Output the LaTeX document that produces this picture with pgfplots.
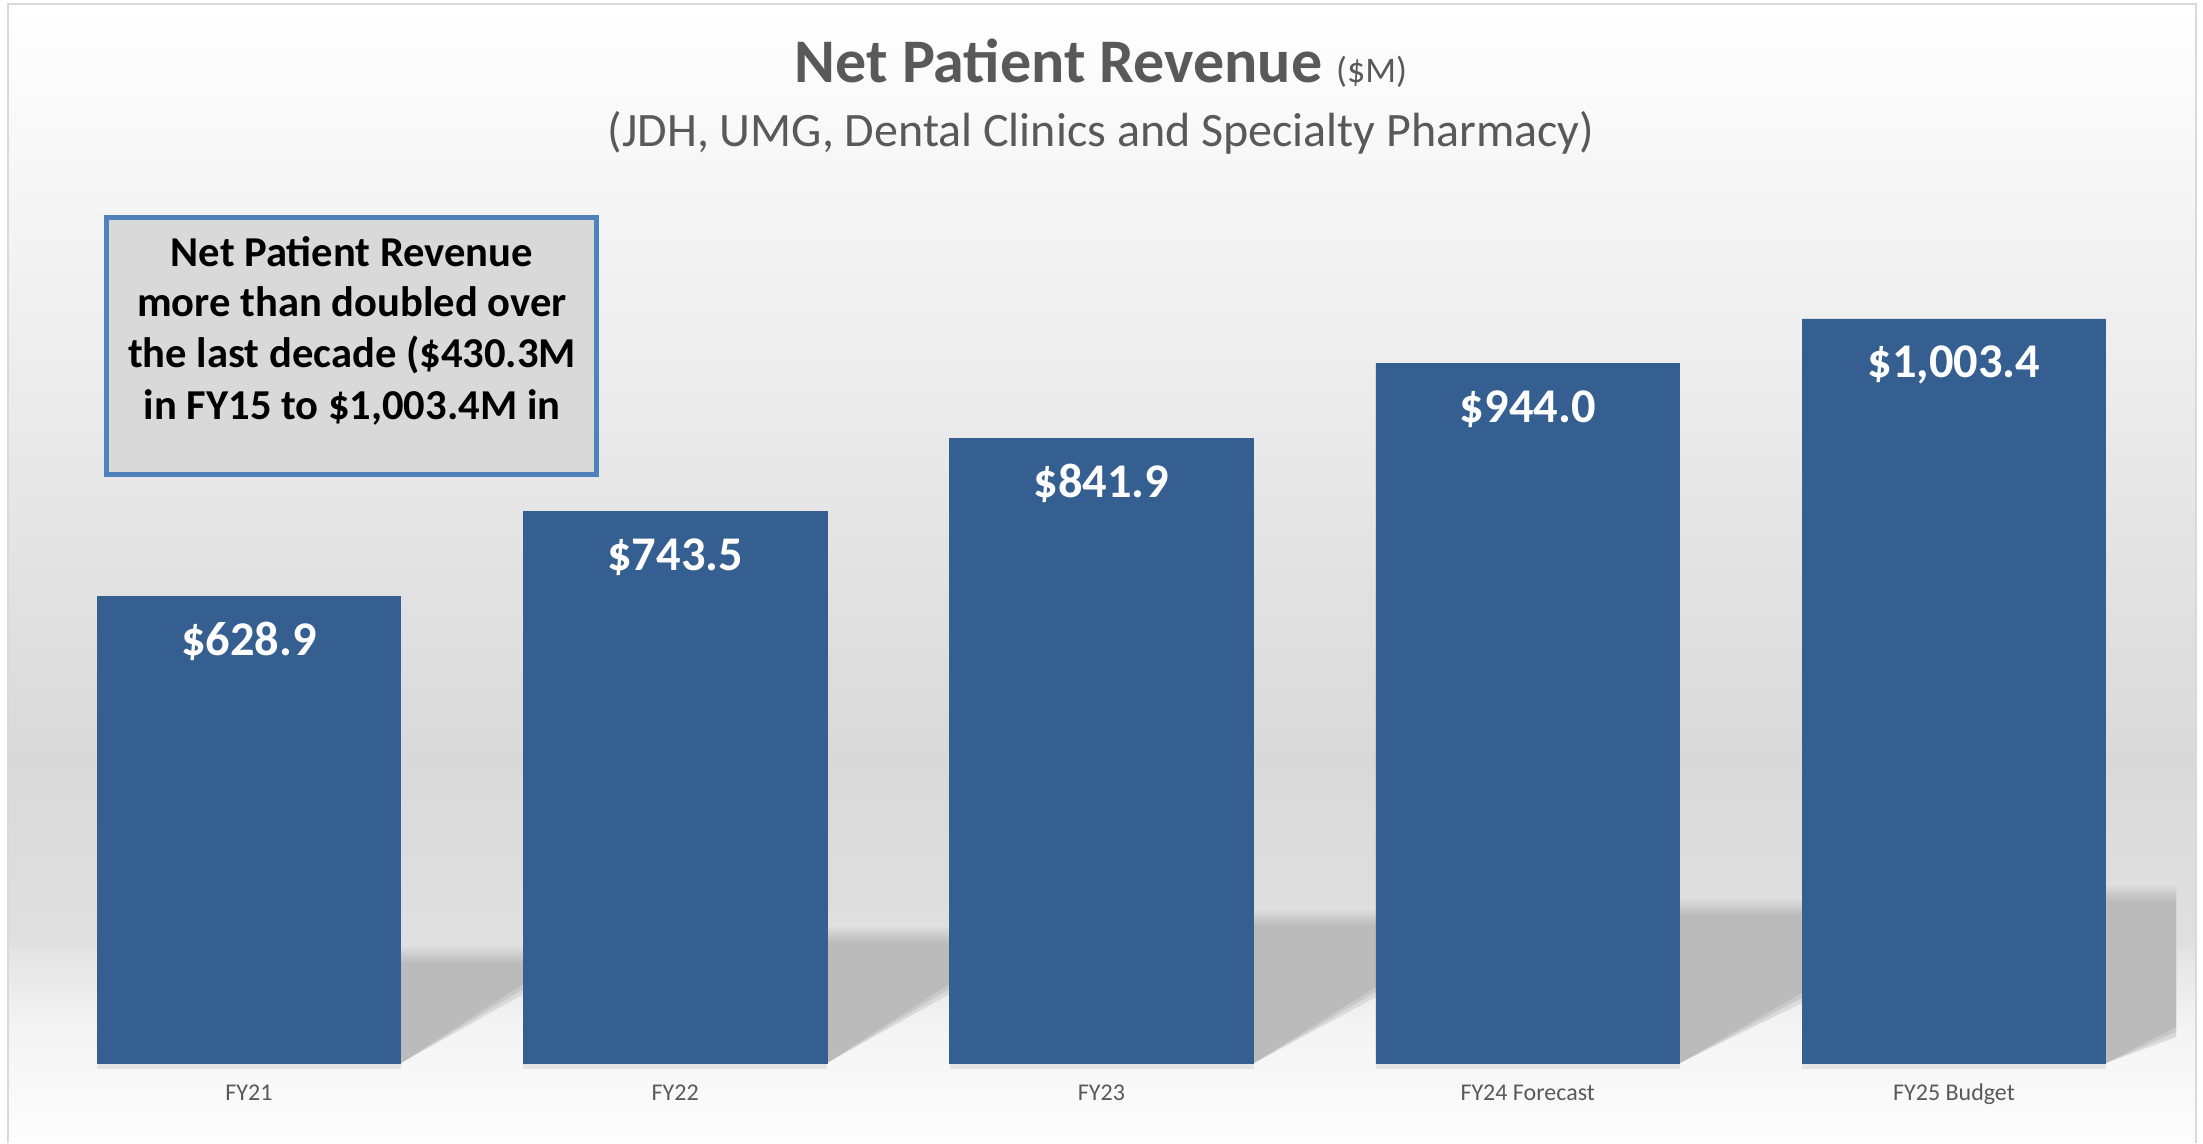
\documentclass[border=0pt]{standalone}
\usepackage{fontspec}
\setmainfont{Carlito}
\usepackage{pgfplots}
\pgfplotsset{compat=1.18}
\definecolor{barblue}{HTML}{365F91}
\definecolor{titlegrey}{HTML}{595959}
\definecolor{boxborder}{HTML}{4F81BD}
\definecolor{boxfill}{HTML}{D9D9D9}
\definecolor{shadowgrey}{HTML}{BBBBBB}
\definecolor{shadowmid}{HTML}{C9C9C9}
\definecolor{shadowlight}{HTML}{DADADA}
\definecolor{bgA}{HTML}{D9D9D9}
\definecolor{bgB}{HTML}{E0E0E0}
\definecolor{bgC}{HTML}{E4E4E4}
\definecolor{bgD}{HTML}{F4F4F4}
\definecolor{bgE}{HTML}{FDFDFD}
\definecolor{framegrey}{HTML}{D9D9D9}
\newcommand{\shadowpoly}[5]{% xr, xe, ye, top, blur
  \fill[shadowlight] (#1,1063) -- (#2,#3+2*#5) -- (#2,#4) -- (#1,#4) -- cycle;
  \fill[shadowmid] (#1,1063) -- (#2,#3+#5) -- (#2,#4) -- (#1,#4) -- cycle;
  \fill[shadowgrey] (#1,1063) -- (#2,#3) -- (#2,#4) -- (#1,#4) -- cycle;
  \shade[top color=bgB, bottom color=shadowgrey] (#1,#4-10) rectangle (#2,#4+8);
}
\begin{document}
\begin{tikzpicture}
\begin{scope}[x=0.5pt,y=-0.5pt,shift={(0pt,571.5pt)}]
  \fill[white] (0,0) rectangle (2203,1143);
  \shade[top color=white, bottom color=bgA] (8,4) rectangle (2196,760);
  \shade[top color=bgA, bottom color=bgB] (8,760) rectangle (2196,950);
  \shade[top color=bgC, bottom color=bgD] (8,950) rectangle (2196,1030);
  \shade[top color=bgD, bottom color=bgE] (8,1030) rectangle (2196,1143);
  % shadows of the bars
  \shadowpoly{401}{545}{970}{955}{6}
  \shadowpoly{827}{971}{970}{935}{6}
  \shadowpoly{1254}{1398}{973}{918}{6}
  \shadowpoly{1680}{1824}{980}{907}{6}
  \shadowpoly{2106}{2176}{1027}{893}{5}
  % faint shadow under bars
  \foreach \c in {249,675,1102,1528,1954} {
    \fill[bgC] (\c-152,1063) rectangle (\c+152,1069);
  }
\end{scope}
\begin{axis}[
  at={(0pt,0pt)}, anchor=south west,
  scale only axis, width=1101.5pt, height=571.5pt,
  xmin=-0.58416, xmax=4.58416, ymin=-107.89, ymax=1433.62,
  ybar, bar width=0.712,
  axis line style={draw=none}, tick style={draw=none}, major tick length=0pt,
  ytick=\empty, xtick={0,1,2,3,4},
  xticklabels={FY21,FY22,FY23,FY24 Forecast,FY25 Budget},
  xticklabel style={anchor=base, yshift=21pt, font=\fontsize{12}{14}\selectfont, text=titlegrey},
  nodes near coords={\$\pgfmathprintnumber[fixed,fixed zerofill,precision=1,1000 sep={,},assume math mode=true]{\pgfplotspointmeta}},
  every node near coord/.append style={anchor=base, yshift=-29.5pt, text=white, font=\fontsize{24.2}{29}\bfseries},
  clip=false,
]
\addplot[fill=barblue, draw=barblue] coordinates {(0,628.9) (1,743.5) (2,841.9) (3,944.0) (4,1003.4)};
\end{axis}
\begin{scope}[x=0.5pt,y=-0.5pt,shift={(0pt,571.5pt)}]
  \draw[framegrey, line width=1pt] (8,1143) -- (8,4) -- (2196,4) -- (2196,1143);
  \draw[boxborder, line width=2.5pt, fill=boxfill] (106.5,217.5) rectangle (596.5,474.5);
  \node[anchor=base, font=\fontsize{21.3}{25}\bfseries] at (352,267) {Net Patient Revenue};
  \node[anchor=base, font=\fontsize{21.3}{25}\bfseries] at (352,317) {more than doubled over};
  \node[anchor=base, font=\fontsize{21.3}{25}\bfseries] at (352,368) {the last decade (\$430.3M};
  \node[anchor=base, font=\fontsize{21.3}{25}\bfseries] at (352,420) {in FY15 to \$1,003.4M in};
  \node[anchor=base, text=titlegrey] at (1101,83) {{\fontsize{31}{36}\bfseries Net Patient Revenue }{\fontsize{18}{21}\selectfont(\$M)}};
  \node[anchor=base, text=titlegrey, font=\fontsize{24}{29}\selectfont] at (1101,147) {(JDH, UMG, Dental Clinics and Specialty Pharmacy)};
\end{scope}
\end{tikzpicture}
\end{document}
